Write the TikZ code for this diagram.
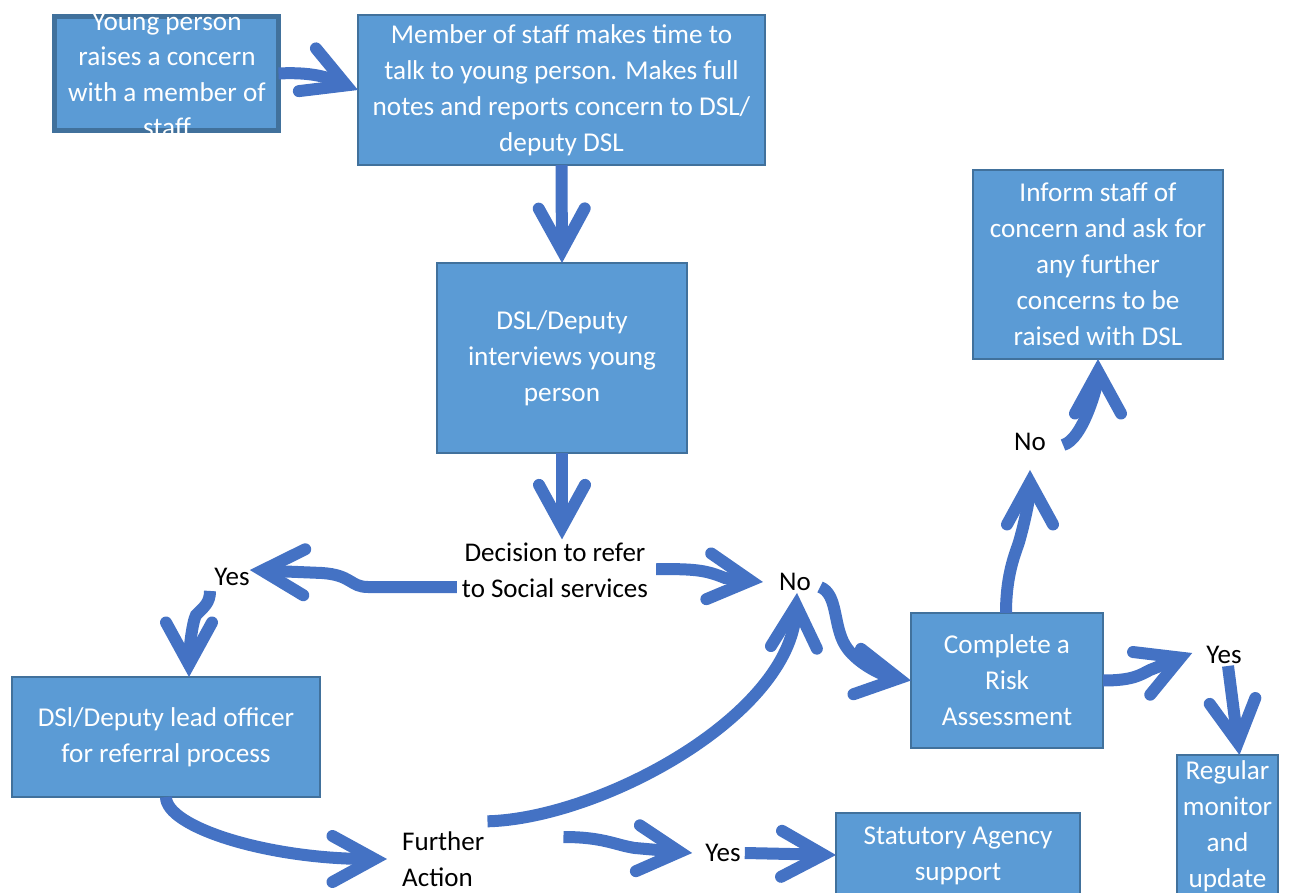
\documentclass[tikz,border=0pt]{standalone}
\usepackage{fontspec}
\setmainfont{Carlito}
\usetikzlibrary{arrows.meta,calc}
\definecolor{boxfill}{HTML}{5B9BD5}
\definecolor{boxline}{HTML}{41719C}
\definecolor{arrblue}{HTML}{4472C4}
\tikzset{
  box/.style={rectangle, fill=boxfill, draw=boxline, line width=1.5pt, inner sep=0pt, outer sep=0pt,
    text=white, align=center, font=\fontsize{27.2}{36}\selectfont},
  ybox/.style={box, line width=5pt},
  wtext/.style={text=white, align=center, inner sep=0pt, font=\fontsize{27.2}{35.5}\selectfont},
  lbl/.style={text=black, align=center, inner sep=2pt, font=\fontsize{27}{36}\selectfont},
  arr/.style={draw=arrblue, line width=12pt, line cap=butt,
    -{Straight Barb[length=42pt,width=46pt,line cap=round]}}
}
\begin{document}
\begin{tikzpicture}[x=1pt,y=-1pt]
\useasboundingbox (0,0) rectangle (1306,893);
% boxes
\node[ybox, minimum width=224, minimum height=114] (yp) at (166.5,73.5) {};
\node[wtext] (ypt) at (167,75) {Young person\\raises a concern\\with a member of\\staff};
\node[box, minimum width=407, minimum height=150] (mem) at (561.5,90)
  {Member of staff makes time to\\talk to young person. Makes full\\notes and reports concern to DSL/\\deputy DSL};
\node[box, minimum width=250, minimum height=190] (dsl) at (562,358)
  {DSL/Deputy\\interviews young\\person};
\node[box, minimum width=250, minimum height=189] (inf) at (1098,264.5)
  {Inform staff of\\concern and ask for\\any further\\concerns to be\\raised with DSL};
\node[box, minimum width=192, minimum height=135] (risk) at (1007,680.5)
  {Complete a\\Risk\\Assessment};
\node[box, minimum width=308, minimum height=120] (lead) at (166,737)
  {DSl/Deputy lead officer\\for referral process};
\node[box, minimum width=101, minimum height=142] (reg) at (1227.5,826)
  {Regular\\monitor\\and\\update};
\node[box, minimum width=244, minimum height=86] (stat) at (958,856)
  {Statutory Agency\\support};
% labels
\node[lbl] (dec) at (555,570) {Decision to refer\\to Social services};
\node[lbl] (yes1) at (232,577) {Yes};
\node[lbl] (no1) at (795,582) {No};
\node[lbl] (no2) at (1030,442) {No};
\node[lbl] (yes2) at (1224,655) {Yes};
\node[lbl, align=left, anchor=west] (fa) at (400,859) {Further\\Action};
\node[lbl] (yes3) at (723,853) {Yes};
% connectors
\draw[arr] (yp.east) .. controls +(40,-2) and +(-25,-10) .. (mem.west);
\draw[arr] (mem.south) -- (dsl.north);
\draw[arr] (dsl.south) -- ($(dsl.south |- dec.north)+(0,-1)$);
\draw[arr] ($(dec.west)+(-3,17)$) -- (368,587) .. controls (350,587) and (352,575) .. (322,573) -- ($(yes1.east)+(-2,-7)$);
\draw[arr] ($(yes1.south)+(-22,3)$) .. controls +(0,12) and +(8,-8) .. (196,615) .. controls +(-4,8) and +(0,-25) .. ($(lead.north)+(23,0)$);
\draw[arr] ($(dec.east)+(6,-1)$) .. controls +(40,0) and +(-20,-8) .. (725,578) -- ($(no1.west)+(-14,0)$);
\draw[arr] ($(no1.east)+(7,5)$) .. controls +(18,7) and +(-12,-20) .. (845,645) .. controls +(10,17) and +(-30,-5) .. (risk.west);
\draw[arr] ($(fa.north east)+(1,-8)$) .. controls +(113,-3) and +(-7,123) .. ($(no1.south)+(2,0)$);
\draw[arr] (lead.south) .. controls +(0,30) and +(-120,0) .. ($(fa.west)+(-13,0)$);
\draw[arr] ($(fa.east)+(77,-22)$) .. controls +(40,0) and +(-20,-3) .. (635,848) -- ($(yes3.west)+(-11,0)$);
\draw[arr] ($(yes3.east)+(2,0)$) -- ($(stat.west)+(0,-1)$);
\draw[arr] ($(risk.north)+(-1,0)$) .. controls +(0,-40) and +(-3,10) .. (1019,542) .. controls +(3,-10) and +(0,30) .. ($(no2.south)+(0,17)$);
\draw[arr] ($(no2.east)+(15,3)$) .. controls +(20,-5) and +(0,25) .. (inf.south);
\draw[arr] (risk.east) .. controls +(30,0) and +(-10,5) .. (1150,670) -- ($(yes2.west)+(-12,-2)$);
\draw[arr] ($(yes2.south)+(4,0)$) -- ($(reg.north)+(12,0)$);
\end{tikzpicture}
\end{document}
